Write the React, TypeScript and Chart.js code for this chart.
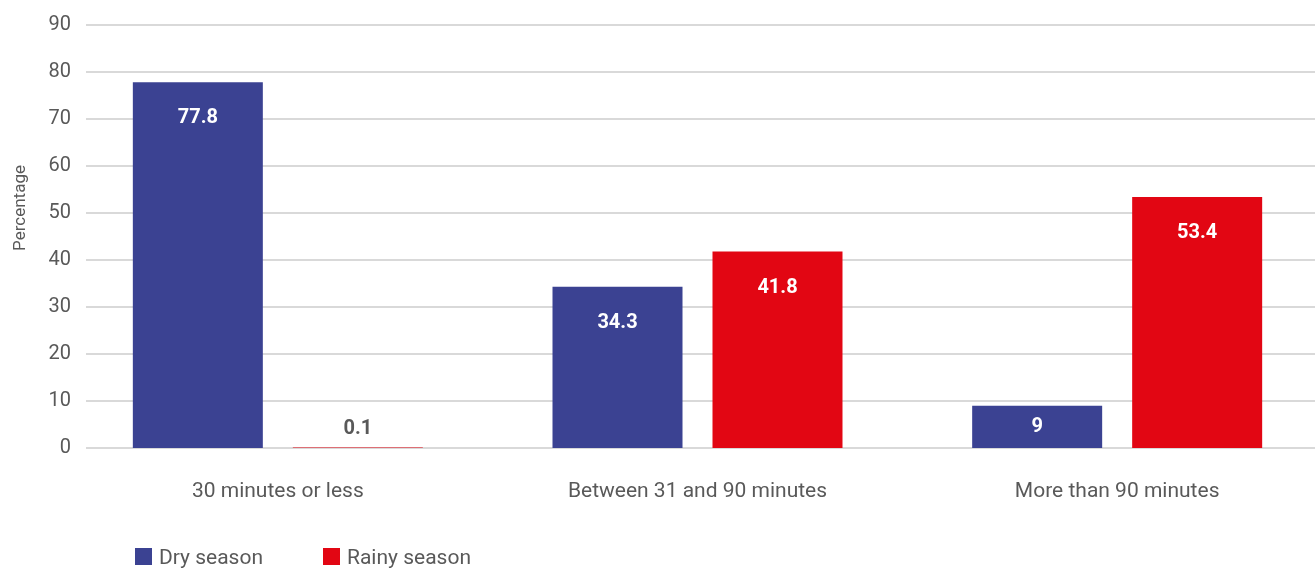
import React, { useEffect, useRef } from "react";
import { Chart, registerables } from "chart.js";

Chart.register(...registerables);

const categories = ["30 minutes or less", "Between 31 and 90 minutes", "More than 90 minutes"];
const drySeason = [77.8, 34.3, 9];
const rainySeason = [0.1, 41.8, 53.4];
const seriesNames = ["Dry season", "Rainy season"];
const yTicks = [0, 10, 20, 30, 40, 50, 60, 70, 80, 90];
const yTitle = "Percentage";

const DRY = "#3b4292";
const RAINY = "#e20613";
const TEXT = "#595959";
const FONT = "Roboto, 'Liberation Sans', Arial, sans-serif";

const gridPlugin = {
  id: "customGrid",
  beforeDatasetsDraw(chart: any) {
    const ctx = chart.ctx;
    const y = chart.scales.y;
    ctx.save();
    ctx.strokeStyle = "#d9d9d9";
    ctx.lineWidth = 2;
    yTicks.forEach((v) => {
      const py = Math.round(y.getPixelForValue(v));
      ctx.beginPath();
      ctx.moveTo(86, py);
      ctx.lineTo(chart.width, py);
      ctx.stroke();
    });
    ctx.restore();
  },
};

const labelPlugin = {
  id: "valueLabels",
  afterDatasetsDraw(chart: any) {
    const ctx = chart.ctx;
    ctx.save();
    ctx.font = `bold 20px ${FONT}`;
    ctx.textAlign = "center";
    ctx.textBaseline = "middle";
    chart.data.datasets.forEach((ds: any, di: number) => {
      const meta = chart.getDatasetMeta(di);
      meta.data.forEach((bar: any, i: number) => {
        const v = ds.data[i];
        const h = bar.base - bar.y;
        let ty: number;
        if (h < 25) {
          ctx.fillStyle = TEXT;
          ty = bar.y - 19;
        } else {
          ctx.fillStyle = "#ffffff";
          ty = Math.min(bar.y + 36, (bar.y + bar.base) / 2);
        }
        ctx.fillText(String(v), bar.x, ty);
      });
    });
    // y axis title
    ctx.font = `17px ${FONT}`;
    ctx.fillStyle = TEXT;
    ctx.translate(21, 208);
    ctx.rotate(-Math.PI / 2);
    ctx.fillText(yTitle, 0, 0);
    ctx.restore();
  },
};

export default function App() {
  const ref = useRef<HTMLCanvasElement>(null);

  useEffect(() => {
    if (!ref.current) return;
    const chart = new Chart(ref.current, {
      type: "bar",
      data: {
        labels: categories,
        datasets: [
          {
            label: seriesNames[0],
            data: drySeason,
            backgroundColor: DRY,
            barPercentage: 0.8125,
            categoryPercentage: 0.7625,
          },
          {
            label: seriesNames[1],
            data: rainySeason,
            backgroundColor: RAINY,
            barPercentage: 0.8125,
            categoryPercentage: 0.7625,
          },
        ],
      },
      options: {
        responsive: false,
        animation: false,
        devicePixelRatio: 1,
        layout: { padding: { top: 25, left: 0, right: 0, bottom: 0 } },
        plugins: {
          legend: { display: false },
          tooltip: { enabled: false },
        },
        scales: {
          x: {
            grid: { display: false, drawTicks: false },
            border: { display: false },
            ticks: {
              padding: 31,
              color: TEXT,
              font: { family: FONT, size: 21 },
              maxRotation: 0,
            },
            afterFit(scale: any) {
              scale.height = 121;
            },
          },
          y: {
            min: 0,
            max: 90,
            grid: { display: false, drawTicks: false },
            border: { display: false },
            afterBuildTicks(scale: any) {
              scale.ticks = yTicks.map((v) => ({ value: v }));
            },
            ticks: {
              padding: -3,
              color: TEXT,
              font: { family: FONT, size: 20 },
            },
            afterFit(scale: any) {
              scale.width = 68;
              scale._computeLabelArea = () => undefined;
            },
          },
        },
      },
      plugins: [gridPlugin, labelPlugin],
    });
    return () => chart.destroy();
  }, []);

  const legendItem = (name: string, color: string, left: number) => (
    <React.Fragment key={name}>
      <span
        style={{
          position: "absolute",
          left,
          top: 548,
          width: 17,
          height: 17,
          background: color,
        }}
      />
      <span
        style={{
          position: "absolute",
          left: left + 24,
          top: 545,
          fontFamily: FONT,
          fontSize: 21,
          lineHeight: "25px",
          color: TEXT,
          whiteSpace: "nowrap",
        }}
      >
        {name}
      </span>
    </React.Fragment>
  );

  return (
    <div
      style={{
        position: "fixed",
        left: 0,
        top: 0,
        width: 1315,
        height: 569,
        overflow: "hidden",
        background: "#ffffff",
      }}
    >
      <canvas ref={ref} width={1327} height={569} style={{ position: "absolute", left: 0, top: 0 }} />
      {legendItem(seriesNames[0], DRY, 135)}
      {legendItem(seriesNames[1], RAINY, 323)}
    </div>
  );
}
